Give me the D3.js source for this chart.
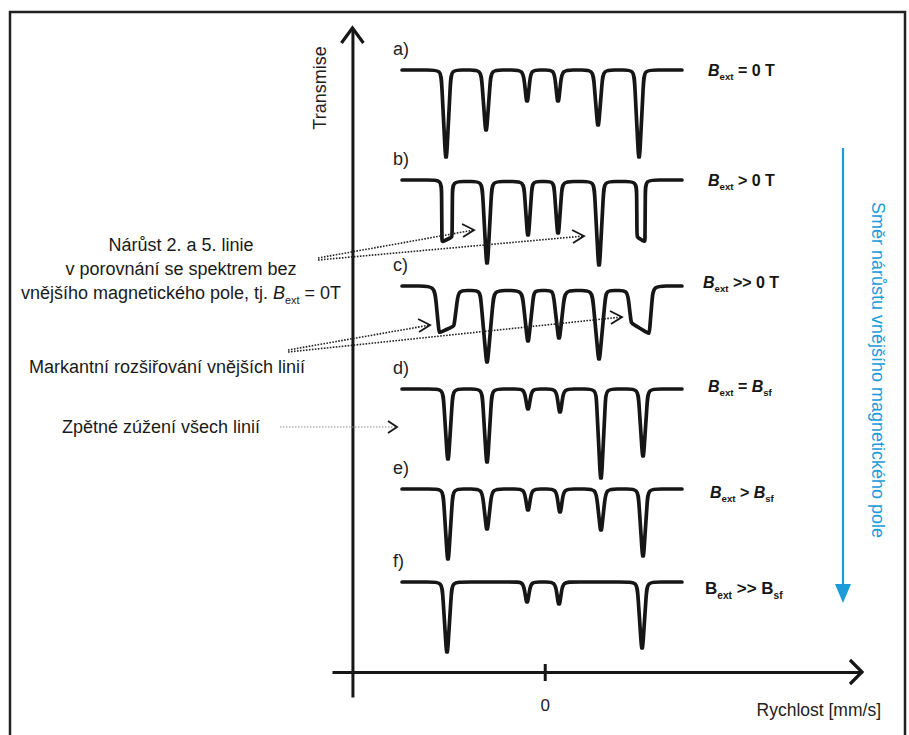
<!DOCTYPE html>
<html>
<head>
<meta charset="utf-8">
<script src="https://cdn.jsdelivr.net/npm/d3@7"></script>
<style>
  body { margin: 0; background: #fff; }
  svg { display: block; font-family: "Liberation Sans", Arial, sans-serif; }
</style>
</head>
<body>
<svg id="chart" width="909" height="735"></svg>
<script>
// Panel letters and the field condition of each spectrum
const panelLabels = ["a)", "b)", "c)", "d)", "e)", "f)"];
const fieldLabels = [
  [["B", "i"], ["ext", "s"], [" = 0 T", ""]],
  [["B", "i"], ["ext", "s"], [" > 0 T", ""]],
  [["B", "i"], ["ext", "s"], [" >> 0 T", ""]],
  [["B", "i"], ["ext", "s"], [" = ", ""], ["B", "i"], ["sf", "s"]],
  [["B", "i"], ["ext", "s"], [" > ", ""], ["B", "i"], ["sf", "s"]],
  [["B", ""], ["ext", "s"], [" >> ", ""], ["B", ""], ["sf", "s"]]
];

// baseline transmission of each spectrum (arb. units, stacked)
const baselines = [602, 492, 386, 283, 183, 90];
// velocity span of each spectrum [mm/s]
const spectrumRange = [-11.87, 11.42];
// small sag of the baseline between the outer lines
const innerDrop = [0, 1.5, 4.5, 0, 0, 0];

// dips: [velocity mm/s, depth at left of bottom, depth at right of bottom, half width at top mm/s, half width at bottom mm/s]
const specA = [[-8.21, 87, 87, 0.42, 0.05], [-4.88, 60, 60, 0.42, 0.05], [-1.47, 31, 31, 0.33, 0.05],
               [1.11, 31, 31, 0.33, 0.05], [4.44, 55, 55, 0.42, 0.05], [7.85, 87, 87, 0.42, 0.05]];
const specB = [[-8.13, 62, 57, 0.46, 0.42], [-4.80, 83, 83, 0.42, 0.05], [-1.39, 55, 55, 0.36, 0.05],
               [1.11, 53, 53, 0.36, 0.05], [4.52, 85, 85, 0.42, 0.05], [8.01, 57, 62, 0.37, 0.33]];
const specC = [[-8.17, 47, 40, 1.0, 0.62], [-4.80, 76, 76, 0.58, 0.05], [-1.39, 55, 55, 0.5, 0.05],
               [1.19, 52, 52, 0.5, 0.05], [4.52, 73, 73, 0.58, 0.05], [7.95, 37, 48, 1.08, 0.75]];
const specD = [[-8.05, 70, 70, 0.42, 0.05], [-4.80, 73, 73, 0.42, 0.05], [-1.39, 20, 20, 0.33, 0.05],
               [1.27, 23, 23, 0.33, 0.05], [4.68, 89, 89, 0.42, 0.05], [8.18, 67, 67, 0.42, 0.05]];
const specE = [[-8.05, 70, 70, 0.42, 0.05], [-4.80, 40, 40, 0.42, 0.05], [-1.39, 21, 21, 0.33, 0.05],
               [1.27, 23, 23, 0.33, 0.05], [4.68, 41, 41, 0.42, 0.05], [8.18, 67, 67, 0.42, 0.05]];
const specF = [[-8.13, 70, 70, 0.42, 0.05], [-1.47, 20, 20, 0.33, 0.05], [1.19, 22, 22, 0.33, 0.05],
               [8.10, 66, 66, 0.42, 0.05]];
const spectra = [specA, specB, specC, specD, specE, specF];

// axis ticks
const xTicks = [0];

// annotation arrow tips [velocity, transmission]
const arrowTips = [[-5.88, 442], [3.27, 436], [-9.54, 347], [6.43, 355], [-12.29, 245]];

const svg = d3.select("#chart");
const ink = "#161616";
const blue = "#1b9bd7";

const x = d3.scaleLinear().domain([-17.7, 26.4]).range([332, 862]);
const y = d3.scaleLinear().domain([-25, 644]).range([697, 28]);

// frame
svg.append("path")
  .attr("d", "M10,735 L10,12 L905,12 L905,735")
  .attr("fill", "none")
  .attr("stroke", "#222")
  .attr("stroke-width", 2.5);

// Y axis
const yAxis = svg.append("g")
  .attr("transform", `translate(${x(-16)},0)`)
  .call(d3.axisLeft(y).tickValues([]).tickSizeOuter(0));
yAxis.select(".domain").attr("stroke", ink).attr("stroke-width", 3);
svg.append("path")
  .attr("d", `M${x(-16) - 11},${y(644) + 15} L${x(-16)},${y(644)} L${x(-16) + 11},${y(644) + 15}`)
  .attr("fill", "none").attr("stroke", ink).attr("stroke-width", 3.2);

// X axis
const xAxis = svg.append("g")
  .attr("transform", `translate(0,${y(0)})`)
  .call(d3.axisBottom(x).tickValues(xTicks).tickSizeOuter(0).tickFormat(d3.format("d")));
xAxis.select(".domain").attr("stroke", ink).attr("stroke-width", 3);
xAxis.selectAll(".tick line").attr("stroke", ink).attr("stroke-width", 3).attr("y1", -8).attr("y2", 9);
xAxis.selectAll(".tick text")
  .attr("y", 39).attr("dy", 0)
  .attr("fill", "#222")
  .attr("font-size", 17)
  .attr("font-family", "Liberation Sans, Arial, sans-serif");
svg.append("path")
  .attr("d", `M${x(26.4) - 12},${y(0) - 12} L${x(26.4)},${y(0)} L${x(26.4) - 12},${y(0) + 12}`)
  .attr("fill", "none").attr("stroke", ink).attr("stroke-width", 3.2);

svg.append("text")
  .attr("x", 881).attr("y", 716)
  .attr("text-anchor", "end")
  .attr("font-size", 17.5)
  .attr("fill", "#222")
  .text("Rychlost [mm/s]");

svg.append("text")
  .attr("transform", "translate(326,88) rotate(-90)")
  .attr("text-anchor", "middle")
  .attr("font-size", 18)
  .attr("fill", "#222")
  .text("Transmise");

// rounded polyline -> control points for a B-spline
function roundCorners(pts, radii) {
  const out = [pts[0]];
  for (let i = 1; i < pts.length - 1; i++) {
    const [ax, ay] = pts[i - 1], [px, py] = pts[i], [bx, by] = pts[i + 1];
    const lin = Math.hypot(px - ax, py - ay), lout = Math.hypot(bx - px, by - py);
    const r = Math.min(radii[i], 0.45 * lin, 0.45 * lout);
    out.push([px - r * (px - ax) / lin, py - r * (py - ay) / lin]);
    out.push([px, py]);
    out.push([px + r * (bx - px) / lout, py + r * (by - py) / lout]);
  }
  out.push(pts[pts.length - 1]);
  return out;
}

const line = d3.line().curve(d3.curveBasis);
const topRadius = [12, 12, 15, 12, 12, 12];
const bottomRadius = 3;

spectra.forEach((dips, i) => {
  const base = baselines[i];
  const pts = [[x(spectrumRange[0]), y(base)]];
  const radii = [0];
  dips.forEach((d, j) => {
    const [v, dl, dr, ht, hb] = d;
    const topL = j === 0 ? base : base - innerDrop[i];
    const topR = j === dips.length - 1 ? base : base - innerDrop[i];
    pts.push([x(v - ht), y(topL)], [x(v - hb), y(base - dl)], [x(v + hb), y(base - dr)], [x(v + ht), y(topR)]);
    radii.push(topRadius[i], bottomRadius, bottomRadius, topRadius[i]);
  });
  pts.push([x(spectrumRange[1]), y(base)]);
  radii.push(0);

  svg.append("path")
    .attr("d", line(roundCorners(pts, radii)))
    .attr("fill", "none")
    .attr("stroke", ink)
    .attr("stroke-width", 3.7)
    .attr("stroke-linejoin", "round")
    .attr("stroke-linecap", "round");

  svg.append("text")
    .attr("x", 393)
    .attr("y", y(base) - 15)
    .attr("font-size", 18)
    .attr("fill", "#222")
    .text(panelLabels[i]);
});

// rich text with italic parts and subscripts
function richText(g, xp, yp, parts, size, anchor) {
  const t = g.append("text").attr("x", xp).attr("y", yp)
    .attr("font-size", size).attr("text-anchor", anchor || "start");
  let shift = 0;
  parts.forEach(([s, st]) => {
    const ts = t.append("tspan").text(s);
    if (st.includes("i")) ts.attr("font-style", "italic");
    const want = st.includes("s") ? size * 0.28 : 0;
    if (want !== shift) { ts.attr("dy", want - shift); shift = want; }
    ts.attr("font-size", st.includes("s") ? size * 0.6 : size);
  });
  return t;
}

const fieldX = [708, 708, 703, 708, 710, 705];
const fieldDy = [6, 6, 2, 3, 9, 12];
const fieldSize = [16, 16, 16, 16, 16, 17];
fieldLabels.forEach((parts, i) => {
  richText(svg, fieldX[i], y(baselines[i]) + fieldDy[i], parts, fieldSize[i])
    .attr("font-weight", "bold")
    .attr("fill", ink);
});

// left annotations
const notes = svg.append("g").attr("fill", "#1a1a1a");
richText(notes, 181, 251, [["Nárůst 2. a 5. linie", ""]], 18, "middle");
richText(notes, 181, 275, [["v porovnání se spektrem bez", ""]], 18, "middle");
richText(notes, 181, 299, [["vnějšího magnetického pole, tj. ", ""], ["B", "i"], ["ext", "s"], [" = 0T", ""]], 18, "middle");
richText(notes, 167, 373, [["Markantní rozšiřování vnějších linií", ""]], 18, "middle");
richText(notes, 161, 433, [["Zpětné zúžení všech linií", ""]], 18, "middle");

const arrowStarts = [[318, 258], [318, 260], [288, 350], [288, 352], [280, 427]];
arrowTips.forEach((tip, i) => {
  const tx = x(tip[0]), ty = y(tip[1]);
  const light = i === 4;
  svg.append("line")
    .attr("x1", arrowStarts[i][0]).attr("y1", arrowStarts[i][1])
    .attr("x2", tx).attr("y2", ty)
    .attr("stroke", light ? "#8a8a8a" : "#222")
    .attr("stroke-width", light ? 1.1 : 1.6)
    .attr("stroke-dasharray", light ? "1.5 1.5" : "1.6 1.4");
  svg.append("path")
    .attr("d", light
      ? `M${tx - 9},${ty - 6} L${tx},${ty} L${tx - 9},${ty + 6}`
      : `M${tx - 12},${ty - 6} L${tx},${ty} L${tx - 11},${ty + 7}`)
    .attr("fill", "none")
    .attr("stroke", ink)
    .attr("stroke-width", 1.8);
});

// field direction arrow
svg.append("line")
  .attr("x1", 843).attr("y1", 148).attr("x2", 843).attr("y2", 588)
  .attr("stroke", blue).attr("stroke-width", 2.2);
svg.append("path")
  .attr("d", "M835,584 L851,584 L843,603 Z")
  .attr("fill", blue);
svg.append("text")
  .attr("transform", "translate(872,370) rotate(90)")
  .attr("text-anchor", "middle")
  .attr("font-size", 18)
  .attr("fill", blue)
  .text("Směr nárůstu vnějšího magnetického pole");
</script>
</body>
</html>
